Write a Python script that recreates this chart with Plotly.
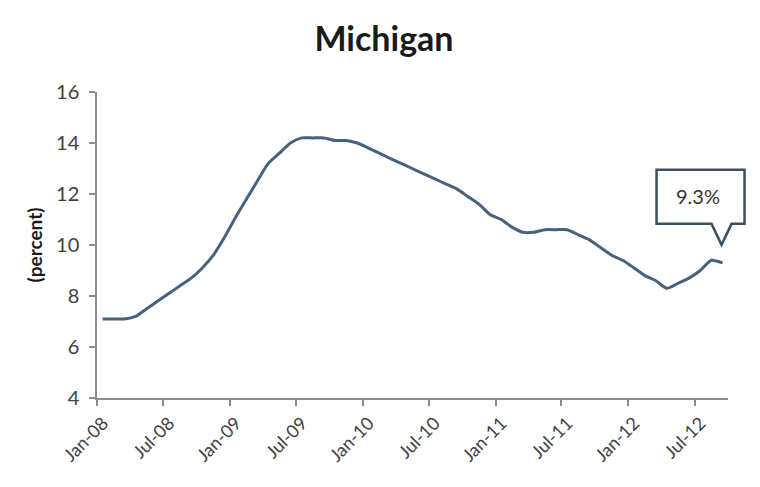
import pandas as pd
import plotly.graph_objects as go

months = pd.date_range("2008-01-01", "2012-09-01", freq="MS")
rates = [7.1, 7.1, 7.1, 7.2, 7.5, 7.8, 8.1, 8.4, 8.7, 9.1, 9.6, 10.3,
         11.1, 11.8, 12.5, 13.2, 13.6, 14.0, 14.2, 14.2, 14.2, 14.1, 14.1, 14.0,
         13.8, 13.6, 13.4, 13.2, 13.0, 12.8, 12.6, 12.4, 12.2, 11.9, 11.6, 11.2,
         11.0, 10.7, 10.5, 10.5, 10.6, 10.6, 10.6, 10.4, 10.2, 9.9, 9.6, 9.4,
         9.1, 8.8, 8.6, 8.3, 8.5, 8.7, 9.0, 9.4, 9.3]
title = "Michigan"
y_title = "(percent)"
callout_text = "9.3%"
y_range = [4, 16]

line_color = "#46627f"
axis_color = "#8c8c8c"
font_family = "Lato, 'Open Sans', sans-serif"

x_start = months[0]
x_end = months[-1] + pd.DateOffset(months=1)

fig = go.Figure()
fig.add_trace(go.Scatter(
    x=months, y=rates, mode="lines",
    xperiod="M1", xperiodalignment="middle",
    line=dict(color=line_color, width=3, shape="spline", smoothing=0.6),
    hoverinfo="x+y",
))

# callout anchored at the last point (mid-month), in paper coords to avoid clipping
last_x = months[-1] + pd.Timedelta(days=15)
last_y = rates[-1]
fx = (last_x - x_start) / (x_end - x_start)
fy = (last_y - y_range[0]) / (y_range[1] - y_range[0])
fig.add_shape(
    type="path", xref="paper", yref="paper",
    xsizemode="pixel", ysizemode="pixel",
    xanchor=fx, yanchor=fy,
    path="M -66,39 L -11,39 L -1,18 L 9,39 L 22,39 L 22,93 L -66,93 Z",
    fillcolor="white", line=dict(color="#3e4e5e", width=2.5),
)
fig.add_annotation(
    x=fx, y=fy, xref="paper", yref="paper",
    xanchor="center", yanchor="middle",
    text=callout_text, showarrow=False,
    xshift=-25, yshift=67,
    font=dict(family=font_family, size=20, color="#333333"),
)

fig.update_layout(
    width=752, height=479,
    margin=dict(l=89, r=32, t=84, b=89),
    paper_bgcolor="white", plot_bgcolor="white",
    showlegend=False,
    font=dict(family=font_family, color="#404040"),
    title=dict(text=f"<b>{title}</b>", x=0.5, xanchor="center",
               y=0.935, yanchor="middle",
               font=dict(size=34, color="#1a1a1a", family=font_family)),
)
fig.update_xaxes(
    type="date", automargin=False,
    range=[x_start, x_end],
    tick0=x_start, dtick="M6", tickformat="%b-%y",
    tickangle=-45, tickfont=dict(size=18, color="#404040"),
    ticklabelshift=6,
    showline=True, linecolor=axis_color, linewidth=1.5,
    ticks="outside", ticklen=6, tickcolor=axis_color, tickwidth=1.5,
    showgrid=False, zeroline=False,
)
fig.update_yaxes(
    range=y_range, dtick=2, automargin=False,
    tickfont=dict(size=20, color="#404040"),
    ticklabelstandoff=6,
    showline=True, linecolor=axis_color, linewidth=1.5,
    ticks="outside", ticklen=6, tickcolor=axis_color, tickwidth=1.5,
    showgrid=False, zeroline=False,
    title=dict(text=f"<b>{y_title}</b>", font=dict(size=19, color="#1a1a1a"), standoff=8),
)

fig.write_html("out.html")
